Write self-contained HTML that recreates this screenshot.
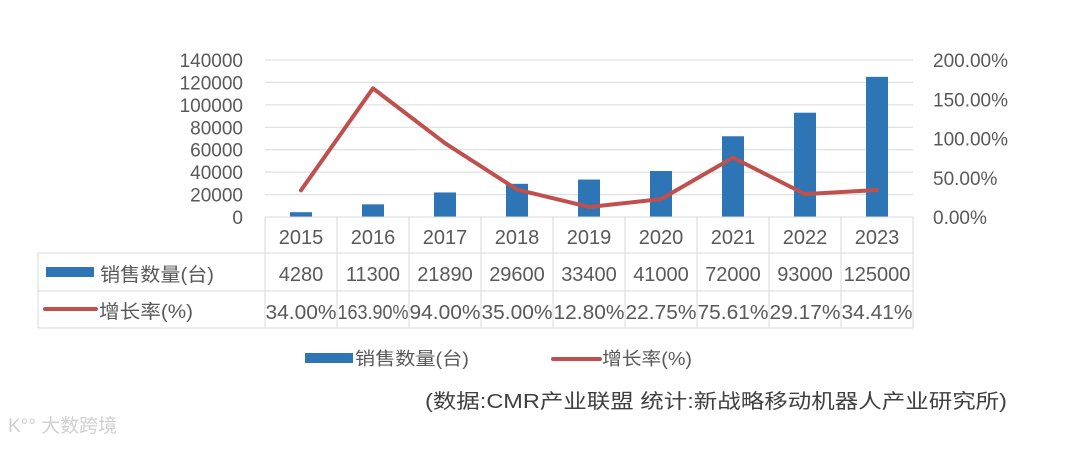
<!DOCTYPE html>
<html><head><meta charset="utf-8"><style>
body{margin:0;background:#fff;width:1080px;height:446px;overflow:hidden}
svg text{font-family:"Liberation Sans","Noto Sans CJK SC",sans-serif;fill:#595959}
</style></head><body>
<svg id="chart" width="1080" height="446" xmlns="http://www.w3.org/2000/svg">
<g id="grid"></g><g id="bars"></g><g id="line"></g><g id="axes"></g><g id="table"></g>
<g>
<rect x="305" y="353" width="48" height="10" fill="#2e75b6"/>
<text x="355" y="365" font-size="18" textLength="114" lengthAdjust="spacingAndGlyphs">销售数量(台)</text>
<line x1="553" y1="359" x2="600" y2="359" stroke="#c0504d" stroke-width="4" stroke-linecap="round"/>
<text x="602" y="365" font-size="18" textLength="90" lengthAdjust="spacingAndGlyphs">增长率(%)</text>
</g>
<text x="425" y="408" font-size="20" textLength="582" lengthAdjust="spacingAndGlyphs" style="fill:#404040">(数据:CMR产业联盟 统计:新战略移动机器人产业研究所)</text>
<text x="8" y="432" font-size="19" style="fill:#d0d0d0">K°° 大数跨境</text>
</svg>
<script>
const years=["2015","2016","2017","2018","2019","2020","2021","2022","2023"];
const sales=[4280,11300,21890,29600,33400,41000,72000,93000,125000];
const growth=[34.00,163.90,94.00,35.00,12.80,22.75,75.61,29.17,34.41];
const growthLabels=["34.00%","163.90%","94.00%","35.00%","12.80%","22.75%","75.61%","29.17%","34.41%"];
const leftTicks=[0,20000,40000,60000,80000,100000,120000,140000];
const rightTicks=[0,50,100,150,200];
const NS="http://www.w3.org/2000/svg";
const x0=265,colW=72,yTop=60,yBot=217;
const xc=i=>x0+colW*(i+0.5);
const yL=v=>yBot-(v/140000)*(yBot-yTop);
const yR=v=>yBot-(v/200)*(yBot-yTop);
function mk(tag,attrs,parent){const e=document.createElementNS(NS,tag);for(const k in attrs)e.setAttribute(k,attrs[k]);parent.appendChild(e);return e;}
const G=id=>document.getElementById(id);
leftTicks.forEach(t=>{
 const l=mk('line',{x1:x0,x2:x0+colW*years.length,y1:yL(t),y2:yL(t),stroke:'#d9d9d9','stroke-width':1},G('grid'));
 
 
 const tx=mk('text',{x:243,y:yL(t)+7,'text-anchor':'end','font-size':19},G('axes'));tx.textContent=t;
 
 
});
rightTicks.forEach(t=>{
 const tx=mk('text',{x:933,y:yR(t)+7,'font-size':19},G('axes'));tx.textContent=t.toFixed(2)+'%';
 
 
});
sales.forEach((v,i)=>{
 const r=mk('rect',{x:xc(i)-11,y:yL(v),width:22,height:yBot-yL(v),fill:'#2e75b6'},G('bars'));
 
 
});
const pl=mk('polyline',{points:growth.map((v,i)=>xc(i)+','+yR(v)).join(' '),fill:'none',stroke:'#c0504d','stroke-width':4,'stroke-linejoin':'round','stroke-linecap':'round'},G('line'));


const T=G('table'),right=x0+colW*years.length,rows=[217,253,291,328],lc='#d9d9d9';
mk('line',{x1:x0,x2:right,y1:rows[0],y2:rows[0],stroke:lc},T);
[1,2,3].forEach(k=>mk('line',{x1:38,x2:right,y1:rows[k],y2:rows[k],stroke:lc},T));
mk('line',{x1:38,x2:38,y1:rows[1],y2:rows[3],stroke:lc},T);
for(let i=0;i<=years.length;i++)mk('line',{x1:x0+colW*i,x2:x0+colW*i,y1:rows[0],y2:rows[3],stroke:lc},T);
years.forEach((y,i)=>{
 const a=mk('text',{x:xc(i),y:244,'text-anchor':'middle','font-size':20},T);a.textContent=y;
 
 
 const b=mk('text',{x:xc(i),y:281,'text-anchor':'middle','font-size':20},T);b.textContent=sales[i];
 
 
 const c=mk('text',{x:xc(i),y:319,'text-anchor':'middle','font-size':20,textLength:71,lengthAdjust:'spacingAndGlyphs'},T);c.textContent=growthLabels[i];
 
 
});
mk('rect',{x:46,y:267,width:48,height:10,fill:'#2e75b6'},T);
const t1=mk('text',{x:100,y:281,'font-size':19,textLength:114,lengthAdjust:'spacingAndGlyphs'},T);t1.textContent='销售数量(台)';


mk('line',{x1:45,x2:96,y1:309,y2:309,stroke:'#c0504d','stroke-width':4,'stroke-linecap':'round'},T);
const t2=mk('text',{x:99,y:318,'font-size':19,textLength:94,lengthAdjust:'spacingAndGlyphs'},T);t2.textContent='增长率(%)';


</script>
</body></html>
